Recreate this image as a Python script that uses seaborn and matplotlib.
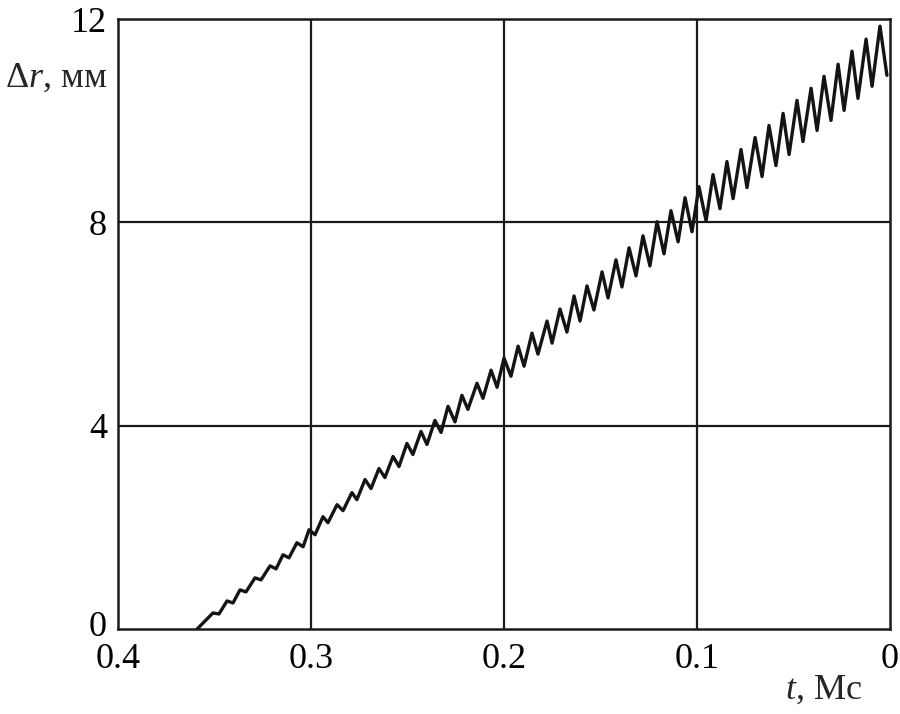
import matplotlib
matplotlib.use("Agg")
import matplotlib.pyplot as plt
from matplotlib.transforms import ScaledTranslation
import seaborn as sns
import pandas as pd
import numpy as np

# start of the curve (t, ms ; dr, mm)
start_t = [0.359]
start_r = [0.0]

# crests of the oscillation
peak_t = [0.3508, 0.3435, 0.3368, 0.3290, 0.3212, 0.3145, 0.3073, 0.3010,
          0.2938, 0.2865, 0.2788, 0.2720, 0.2648, 0.2575, 0.2503, 0.2430,
          0.2358, 0.2290, 0.2218, 0.2140, 0.2067, 0.2000, 0.1927, 0.1855,
          0.1777, 0.1710, 0.1637, 0.1570, 0.1492, 0.1420, 0.1352, 0.1280,
          0.1207, 0.1135, 0.1062, 0.0990, 0.0917, 0.0845, 0.0772, 0.0699,
          0.0627, 0.0554, 0.0482, 0.0409, 0.0342, 0.0269, 0.0197, 0.0124,
          0.0052]
peak_r = [0.316, 0.553, 0.770, 1.007, 1.243, 1.460, 1.697, 1.954,
          2.210, 2.447, 2.684, 2.941, 3.158, 3.395, 3.651, 3.888,
          4.105, 4.381, 4.598, 4.835, 5.092, 5.329, 5.565, 5.822,
          6.059, 6.296, 6.552, 6.750, 7.026, 7.263, 7.500, 7.736,
          8.013, 8.230, 8.486, 8.703, 8.940, 9.197, 9.434, 9.670,
          9.907, 10.144, 10.401, 10.638, 10.874, 11.111, 11.368, 11.605,
          11.861]

# troughs following each crest
trough_t = [0.3477, 0.3404, 0.3337, 0.3259, 0.3181, 0.3114, 0.3041, 0.2979,
            0.2912, 0.2834, 0.2762, 0.2689, 0.2617, 0.2544, 0.2472, 0.2399,
            0.2326, 0.2254, 0.2187, 0.2109, 0.2036, 0.1964, 0.1896, 0.1824,
            0.1751, 0.1674, 0.1606, 0.1534, 0.1461, 0.1389, 0.1316, 0.1244,
            0.1171, 0.1098, 0.1026, 0.0953, 0.0881, 0.0813, 0.0741, 0.0663,
            0.0591, 0.0523, 0.0451, 0.0378, 0.0306, 0.0238, 0.0166, 0.0093,
            0.0016]
trough_r = [0.296, 0.513, 0.730, 0.967, 1.184, 1.401, 1.618, 1.855,
            2.092, 2.329, 2.546, 2.763, 2.980, 3.197, 3.434, 3.631,
            3.868, 4.075, 4.322, 4.539, 4.756, 4.973, 5.171, 5.408,
            5.625, 5.842, 6.059, 6.276, 6.513, 6.730, 6.947, 7.144,
            7.381, 7.618, 7.815, 8.032, 8.269, 8.467, 8.684, 8.901,
            9.118, 9.335, 9.591, 9.809, 10.006, 10.203, 10.440, 10.677,
            10.894]

x_ticks = [0.4, 0.3, 0.2, 0.1, 0.0]
x_labels = ["0.4", "0.3", "0.2", "0.1", "0"]
y_ticks = [0, 4, 8, 12]

# interleave crests and troughs in drawing order
t_all = list(start_t)
r_all = list(start_r)
for pt, pr, tt, tr in zip(peak_t, peak_r, trough_t, trough_r):
    t_all += [pt, tt]
    r_all += [pr, tr]
df = pd.DataFrame({"t": t_all, "r": r_all, "order": np.arange(len(t_all))})

sns.set_theme(style="white")
plt.rcParams["font.family"] = ["Liberation Serif", "DejaVu Serif"]
plt.rcParams["mathtext.fontset"] = "custom"
plt.rcParams["mathtext.rm"] = "Liberation Serif"
plt.rcParams["mathtext.it"] = "Liberation Serif:italic"

fig = plt.figure(figsize=(9, 7.14), dpi=100)
ax = fig.add_axes([0.1311, 0.1190, 0.8578, 0.8543])

sns.lineplot(data=df, x="t", y="r", sort=False, estimator=None, ax=ax,
             color="#141414", linewidth=2.4, solid_joinstyle="round",
             solid_capstyle="round")

ax.set_xlim(0.4, 0.0)
ax.set_ylim(0, 12)
ax.set_xticks(x_ticks)
ax.set_xticklabels(x_labels)
ax.set_yticks(y_ticks)
ax.tick_params(axis="both", length=0, labelsize=26, colors="black")
ax.tick_params(axis="x", pad=10)
ax.tick_params(axis="y", pad=8)

for v in [0.3, 0.2, 0.1]:
    ax.axvline(v, color="#1a1a1a", linewidth=1.6, zorder=1)
for v in [4, 8]:
    ax.axhline(v, color="#1a1a1a", linewidth=1.6, zorder=1)

for s in ax.spines.values():
    s.set_color("#1a1a1a")
    s.set_linewidth(1.8)

ax.set_xlabel("")
ax.set_ylabel("")
fig.text(5 / 900, 1 - 78 / 714, r"$\Delta r$, мм", fontsize=26,
         ha="left", va="center")
fig.text(862 / 900, 1 - 690 / 714, r"$t$, Мс", fontsize=26,
         ha="right", va="center")

# lift the bottom "0" a little, as in the original
lab0 = ax.get_yticklabels()[0]
lab0.set_transform(lab0.get_transform()
                   + ScaledTranslation(0, 0.06, fig.dpi_scale_trans))

fig.savefig("out.png", dpi=100)
